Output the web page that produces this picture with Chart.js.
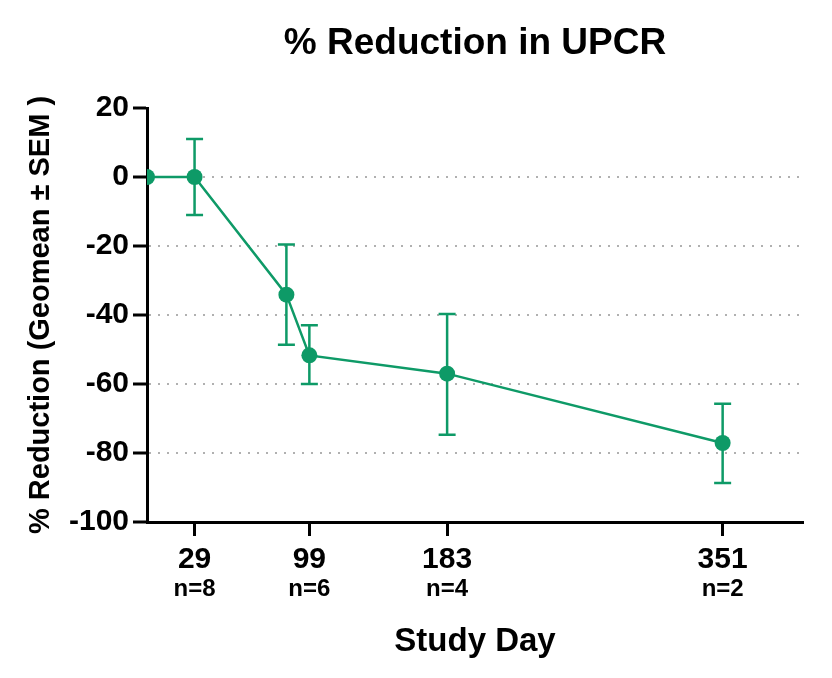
<!DOCTYPE html>
<html>
<head>
<meta charset="utf-8">
<script src="https://cdn.jsdelivr.net/npm/chart.js@4/dist/chart.umd.min.js"></script>
<style>
  html, body { margin: 0; padding: 0; background: #fff; }
  #wrap { width: 832px; height: 678px; position: relative; }
</style>
</head>
<body>
<div id="wrap"><canvas id="c" width="832" height="678"></canvas></div>
<script>
// ---- Data ----
const studyDays     = [0, 29, 85, 99, 183, 351];
const meanReduction = [0, 0, -34.1, -51.7, -57.0, -77.1];
const semUpper      = [null, 11.0, -19.6, -43.0, -39.7, -65.7];
const semLower      = [null, -11.0, -48.6, -60.0, -74.7, -88.7];
const xTickDays     = [29, 99, 183, 351];
const xTickCounts   = ['n=8', 'n=6', 'n=4', 'n=2'];
const yTickValues   = [20, 0, -20, -40, -60, -80, -100];

const GREEN = '#0e9a67';
const FONT = '"Liberation Sans", Arial, Helvetica, sans-serif';

const errorBarPlugin = {
  id: 'errorBars',
  beforeDatasetsDraw(chart) {
    const ctx = chart.ctx;
    const xs = chart.scales.x, ys = chart.scales.y;
    ctx.save();
    ctx.strokeStyle = GREEN;
    ctx.lineWidth = 2.5;
    const cap = 8.5;
    studyDays.forEach((d, i) => {
      if (semUpper[i] === null) return;
      const x = xs.getPixelForValue(d);
      const yt = ys.getPixelForValue(semUpper[i]);
      const yb = ys.getPixelForValue(semLower[i]);
      ctx.beginPath();
      ctx.moveTo(x, yt); ctx.lineTo(x, yb);
      ctx.moveTo(x - cap, yt); ctx.lineTo(x + cap, yt);
      ctx.moveTo(x - cap, yb); ctx.lineTo(x + cap, yb);
      ctx.stroke();
    });
    ctx.restore();
  }
};

const countLabelPlugin = {
  id: 'countLabels',
  afterDraw(chart) {
    const ctx = chart.ctx;
    const xs = chart.scales.x;
    ctx.save();
    ctx.fillStyle = '#000';
    ctx.font = 'bold 24px ' + FONT;
    ctx.textAlign = 'center';
    ctx.textBaseline = 'middle';
    xTickDays.forEach((d, i) => {
      ctx.fillText(xTickCounts[i], xs.getPixelForValue(d), 589);
    });
    ctx.restore();
  }
};

new Chart(document.getElementById('c'), {
  type: 'line',
  data: {
    datasets: [{
      data: studyDays.map((d, i) => ({ x: d, y: meanReduction[i] })),
      borderColor: GREEN,
      backgroundColor: GREEN,
      borderWidth: 2.5,
      pointRadius: 8,
      pointHoverRadius: 8,
      pointBackgroundColor: GREEN,
      pointBorderColor: GREEN,
      pointBorderWidth: 0,
      tension: 0,
      clip: { left: 0, top: 30, right: 30, bottom: 30 }
    }]
  },
  options: {
    responsive: false,
    animation: false,
    events: [],
    layout: { padding: { left: 0, right: 29, top: 0, bottom: 0 } },
    plugins: {
      legend: { display: false },
      tooltip: { enabled: false },
      title: {
        display: true,
        text: '% Reduction in UPCR',
        fullSize: false,
        color: '#000',
        font: { family: FONT, size: 37, weight: 'bold' },
        padding: { top: 22, bottom: 41.6 }
      }
    },
    scales: {
      x: {
        type: 'linear',
        min: 0,
        max: 400,
        afterBuildTicks(scale) { scale.ticks = xTickDays.map(v => ({ value: v })); },
        afterFit(scale) { scale.height = 156; },
        ticks: {
          color: '#000',
          font: { family: FONT, size: 30, weight: 'bold' },
          padding: 6,
          maxRotation: 0,
          autoSkip: false,
          callback: v => String(v)
        },
        grid: {
          drawOnChartArea: false,
          drawTicks: true,
          tickLength: 14,
          tickWidth: 3,
          tickColor: '#000'
        },
        border: { display: true, color: '#000', width: 3 },
        title: {
          display: true,
          text: 'Study Day',
          color: '#000',
          font: { family: FONT, size: 33, weight: 'bold' },
          padding: { top: 0, bottom: 16 }
        }
      },
      y: {
        type: 'linear',
        min: -100,
        max: 20,
        afterBuildTicks(scale) { scale.ticks = yTickValues.map(v => ({ value: v })); },
        afterFit(scale) { scale.width = 147; },
        ticks: {
          color: '#000',
          font: { family: FONT, size: 30, weight: 'bold' },
          padding: 4,
          callback: v => String(v)
        },
        grid: {
          drawOnChartArea: true,
          drawTicks: true,
          tickLength: 14,
          tickWidth: 3,
          tickColor: '#000',
          lineWidth: 2,
          color: ctx => (ctx.tick && (ctx.tick.value === 20 || ctx.tick.value === -100)) ? 'rgba(0,0,0,0)' : '#b0b0b0'
        },
        border: { display: true, color: '#000', width: 3, dash: [2, 7] },
        title: {
          display: true,
          text: '% Reduction (Geomean ± SEM )',
          color: '#000',
          font: { family: FONT, size: 29, weight: 'bold' },
          padding: { top: 24, bottom: 0 }
        }
      }
    }
  },
  plugins: [errorBarPlugin, countLabelPlugin]
});
</script>
</body>
</html>
